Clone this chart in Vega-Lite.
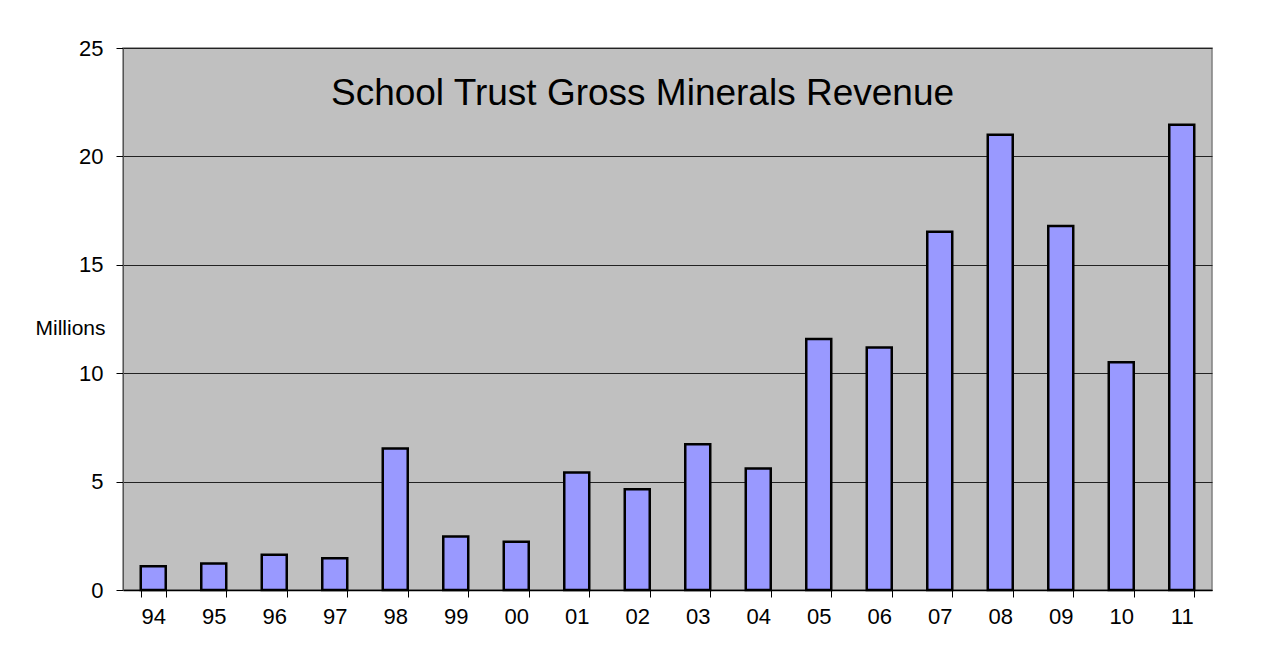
{
  "$schema": "https://vega.github.io/schema/vega-lite/v6.json",
  "autosize": "none",
  "width": 1089,
  "height": 542,
  "padding": {"left": 123, "top": 48, "right": 53, "bottom": 80},
  "background": "white",
  "title": {
    "text": "School Trust Gross Minerals Revenue",
    "font": "Liberation Sans",
    "fontSize": 37,
    "fontWeight": "normal",
    "color": "#000000",
    "anchor": "middle",
    "frame": "group",
    "baseline": "alphabetic",
    "offset": 0,
    "dx": -25,
    "dy": 105
  },
  "data": {
    "values": [
      {"year": "94", "revenue": 1.1},
      {"year": "95", "revenue": 1.22},
      {"year": "96", "revenue": 1.63},
      {"year": "97", "revenue": 1.46},
      {"year": "98", "revenue": 6.53},
      {"year": "99", "revenue": 2.47},
      {"year": "00", "revenue": 2.22},
      {"year": "01", "revenue": 5.42},
      {"year": "02", "revenue": 4.65},
      {"year": "03", "revenue": 6.72},
      {"year": "04", "revenue": 5.61},
      {"year": "05", "revenue": 11.58},
      {"year": "06", "revenue": 11.18},
      {"year": "07", "revenue": 16.53},
      {"year": "08", "revenue": 21.0},
      {"year": "09", "revenue": 16.79},
      {"year": "10", "revenue": 10.5},
      {"year": "11", "revenue": 21.46}
    ]
  },
  "mark": {"type": "bar", "fill": "#9999FF", "stroke": "#000000", "strokeWidth": 2.5},
  "encoding": {
    "x": {
      "field": "year",
      "type": "ordinal",
      "sort": null,
      "scale": {"paddingInner": 0.587, "paddingOuter": 0.2935},
      "axis": {
        "title": null,
        "labelAngle": 0,
        "labelFont": "Liberation Sans",
        "labelFontSize": 22,
        "labelColor": "#000000",
        "labelPadding": 9,
        "tickBand": "extent",
        "tickSize": 7,
        "tickColor": "#000000",
        "domainColor": "#000000",
        "domainWidth": 1.5,
        "grid": false
      }
    },
    "y": {
      "field": "revenue",
      "type": "quantitative",
      "scale": {"domain": [0, 25], "nice": false},
      "axis": {
        "values": [0, 5, 10, 15, 20, 25],
        "title": "Millions",
        "titleAngle": 0,
        "titleAlign": "center",
        "titleBaseline": "alphabetic",
        "titleX": -53,
        "titleY": 286,
        "titleFont": "Liberation Sans",
        "titleFontSize": 21,
        "titleFontWeight": "normal",
        "titleColor": "#000000",
        "labelFont": "Liberation Sans",
        "labelFontSize": 22,
        "labelColor": "#000000",
        "labelPadding": 13,
        "tickSize": 7,
        "tickColor": "#000000",
        "domainColor": "#555555",
        "grid": true,
        "gridColor": "#222222",
        "gridWidth": 1.2,
        "gridOpacity": 1
      }
    }
  },
  "config": {
    "view": {"fill": "#C0C0C0", "stroke": "#808080", "strokeWidth": 1.5}
  }
}
